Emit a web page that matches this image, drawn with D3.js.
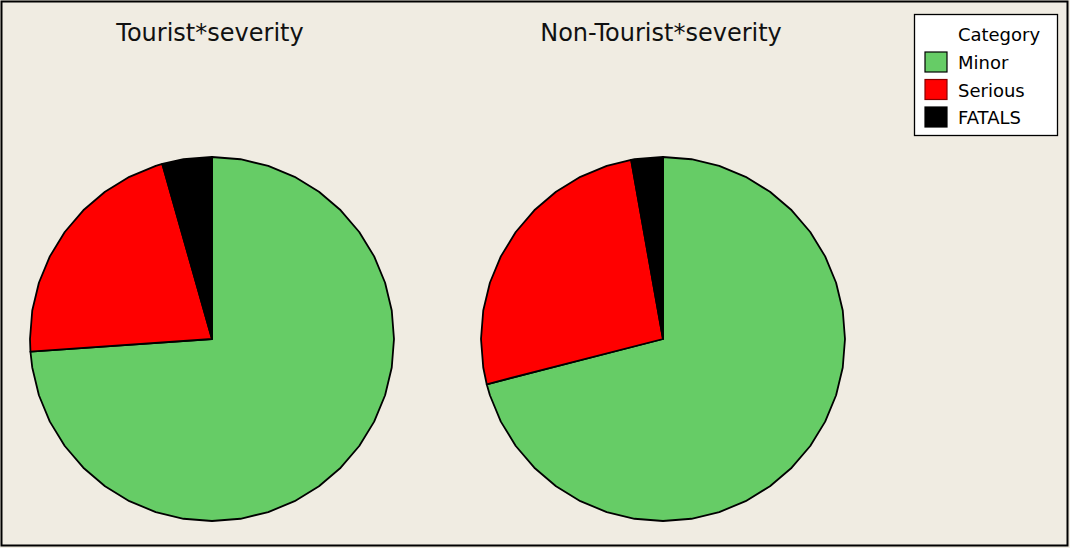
<!DOCTYPE html>
<html><head><meta charset="utf-8">
<script src="https://cdn.jsdelivr.net/npm/d3@7/dist/d3.min.js"></script>
<style>body{margin:0;background:#F0ECE2}svg{display:block}</style>
</head><body>
<svg id="c" width="1070" height="548"></svg>
<script>
const categories = ["Minor", "Serious", "FATALS"];
const tourist = [73.9, 21.7, 4.4];
const nonTourist = [71.0, 26.2, 2.8];
const titles = ["Tourist*severity", "Non-Tourist*severity"];
const colors = ["#66CC66", "#FF0000", "#000000"];

const svg = d3.select("#c");
svg.append("rect").attr("x",1.5).attr("y",1.5).attr("width",1066).attr("height",544)
  .attr("fill","#F0ECE2").attr("stroke","#000").attr("stroke-width",2);

const color = d3.scaleOrdinal().domain(categories).range(colors);
const pie = d3.pie().sort(null).value(d => d.v);
const R = 182;
const step = 2*Math.PI/40;
function polySlice(d){
  const pts = [[0,0]];
  const a0 = d.startAngle, a1 = d.endAngle;
  pts.push([R*Math.sin(a0), -R*Math.cos(a0)]);
  let k = Math.ceil(a0/step + 1e-6);
  while (k*step < a1 - 1e-6){
    const a = k*step; pts.push([R*Math.sin(a), -R*Math.cos(a)]); k++;
  }
  pts.push([R*Math.sin(a1), -R*Math.cos(a1)]);
  return d3.line()(pts) + "Z";
}
const centers = [[212,339],[663,339]];
[tourist, nonTourist].forEach((vals, i) => {
  const data = categories.map((c,j)=>({c, v: vals[j]}));
  const g = svg.append("g").attr("transform", `translate(${centers[i][0]},${centers[i][1]})`);
  g.selectAll("path").data(pie(data)).join("path")
    .attr("d", polySlice)
    .attr("fill", d => color(d.data.c))
    .attr("stroke", "#000").attr("stroke-width", 1.8).attr("stroke-linejoin","round");
  svg.append("text").attr("x", centers[i][0]-2).attr("y", 41)
    .attr("text-anchor","middle").attr("font-family","DejaVu Sans")
    .attr("font-size", 24).attr("fill","#111").text(titles[i]);
});

const lg = svg.append("g");
lg.append("rect").attr("x",914.5).attr("y",14.5).attr("width",143).attr("height",121)
  .attr("fill","#fff").attr("stroke","#000").attr("stroke-width",1.3);
lg.append("text").attr("x",999).attr("y",41).attr("text-anchor","middle")
  .attr("font-family","DejaVu Sans").attr("font-size",18).text("Category");
categories.forEach((c,j)=>{
  const y = 52 + j*27.5;
  lg.append("rect").attr("x",925).attr("y",y).attr("width",22).attr("height",20)
    .attr("fill",color(c)).attr("stroke", j==1 ? "#800" : "#000").attr("stroke-width",1.2);
  lg.append("text").attr("x",958).attr("y",y+17).attr("font-family","DejaVu Sans")
    .attr("font-size",18).text(c);
});
</script>
</body></html>
